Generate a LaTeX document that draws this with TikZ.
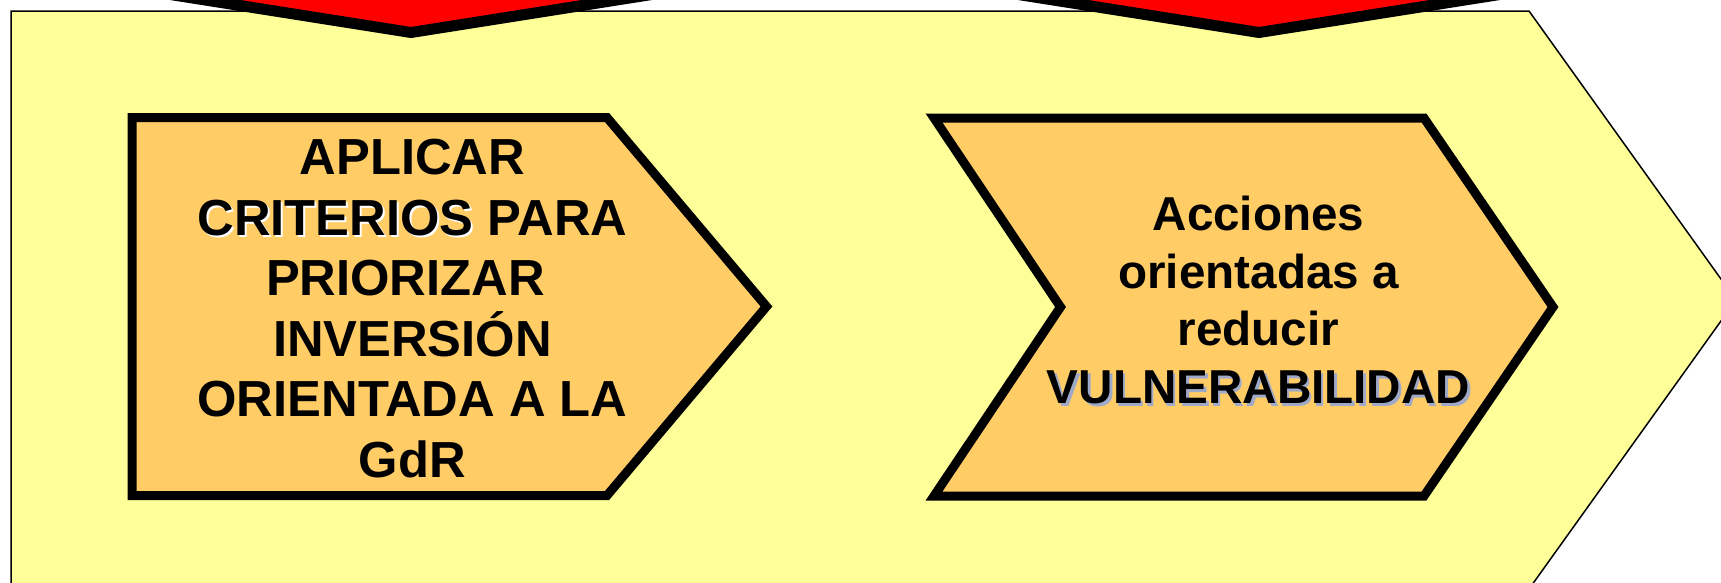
\documentclass[tikz,border=0pt]{standalone}
\usepackage{fontspec}
\setmainfont{Liberation Sans}
\definecolor{bgyellow}{RGB}{255,255,153}
\definecolor{boxorange}{RGB}{255,204,102}
\definecolor{shadowblue}{RGB}{160,170,200}
\begin{document}
\begin{tikzpicture}[x=1pt,y=-1pt,
  panel/.style={fill=bgyellow,draw=black,line width=1.5pt,line join=miter},
  redtip/.style={fill=red,draw=black,line width=11pt,line join=miter,miter limit=20},
  stepbox/.style={fill=boxorange,draw=black,line width=9pt,line join=miter,miter limit=20},
  lineA/.style={font=\fontsize{50.7}{60}\selectfont\bfseries,anchor=base,inner sep=0pt},
  lineB/.style={font=\fontsize{47.6}{58}\selectfont\bfseries,anchor=base,inner sep=0pt}]
\useasboundingbox (0,0) rectangle (1721,582);
\clip (0,0) rectangle (1721,582);
% yellow panel
\draw[panel] (11,11) -- (1529,11) -- (1736,300) -- (1529,589) -- (11,589) -- cycle;
% red arrow tips at top
\draw[redtip] (-95,-47.4) -- (411,32.5) -- (917,-47.4) -- (917,-150) -- (-95,-150) -- cycle;
\draw[redtip] (753,-47.4) -- (1259,32.5) -- (1765,-47.4) -- (1765,-150) -- (753,-150) -- cycle;
% orange step boxes
\draw[stepbox] (132,117.5) -- (607,117.5) -- (766.5,306.5) -- (607,495.5) -- (132,495.5) -- cycle;
\draw[stepbox] (934,118) -- (1424,118) -- (1553,307) -- (1424,496) -- (934,496) -- (1060.5,307) -- cycle;
% text box 1
\node[lineA] (a1) at (412.5,174.5) {APLICAR};
\node[lineA] (a2) at (412.5,235) {\rlap{\hspace{2pt}\raisebox{-2pt}{\color{white}CRITERIOS}}CRITERIOS PARA};
\node[lineA] (a3) at (412.5,295.5) {PRIORIZAR\hspace*{.278em}};
\node[lineA] (a4) at (412.5,356) {INVERSIÓN};
\node[lineA] (a5) at (412.5,416.5) {ORIENTADA A LA};
\node[lineA] (a6) at (412.5,477) {GdR};
% text box 2
\node[lineB] (b1) at (1258.5,230) {Acciones};
\node[lineB] (b2) at (1258.5,288) {orientadas a};
\node[lineB] (b3) at (1258.5,345.7) {reducir};
\node[lineB] (b4) at (1258.5,403.5) {\rlap{\hspace{2.5pt}\raisebox{-2.5pt}{\color{shadowblue}VULNERABILIDAD}}VULNERABILIDAD};
\end{tikzpicture}
\end{document}
